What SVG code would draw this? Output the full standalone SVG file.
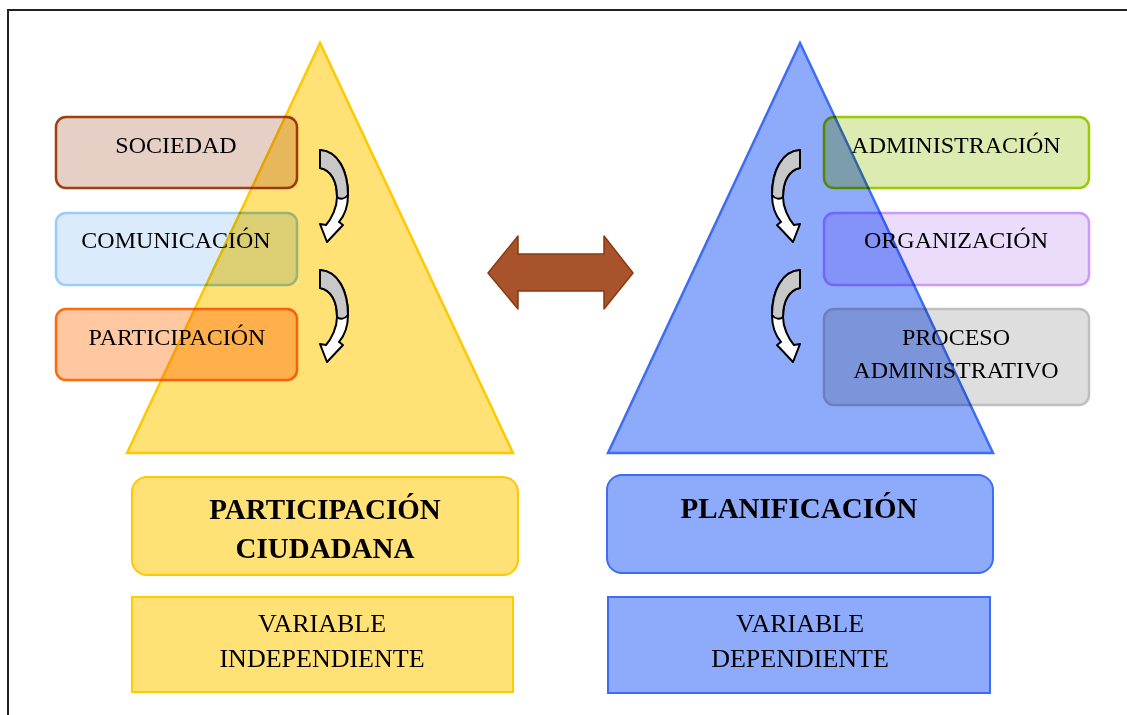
<svg xmlns="http://www.w3.org/2000/svg" width="1127" height="715" viewBox="0 0 1127 715">
<defs>
<style>
.t{font-family:"Liberation Serif","Times New Roman",serif;fill:#000;text-anchor:middle}
.s{font-size:24px}
.m{font-size:26px}
.b{font-size:29px;font-weight:bold}
.bx{mix-blend-mode:multiply;stroke-width:2.5}
.ca{stroke:#000;stroke-width:2;stroke-linejoin:round}
</style>
<g id="curve">
<path class="ca" fill="#fff" d="M2,1 C20,2 30,22 30,46 C30,58 26,67 21,73 L25,76 L9,93 L2,75 L8,76 C14,69 19,58 19,48 C19,32 13,21 2,19 Z"/>
<path class="ca" fill="#c8c8c8" d="M2,1 C20,2 30,22 30,46 C27,50 22,51 19,48 C19,32 13,21 2,19 Z"/>
</g>
</defs>
<rect x="0" y="0" width="1127" height="715" fill="#fff"/>
<rect x="8" y="10" width="1200" height="800" fill="none" stroke="#222" stroke-width="2"/>

<g id="tri-left"><polygon points="320,43 127,453 513,453" fill="#ffe175" stroke="#ffc800" stroke-width="2.5"/></g>
<g id="tri-right"><polygon points="800,43 608,453 993,453" fill="#8eaafb" stroke="#3d6cf5" stroke-width="2.5"/></g>

<g id="sociedad">
<rect class="bx" x="56" y="117" width="241" height="71" rx="10" fill="#e6d0c6" stroke="#a0400f"/>
<text class="t s" x="176" y="153">SOCIEDAD</text>
</g>
<g id="comunicacion">
<rect class="bx" x="56" y="213" width="241" height="72" rx="10" fill="#dcebfb" stroke="#99ccff"/>
<text class="t s" x="176" y="248">COMUNICACIÓN</text>
</g>
<g id="participacion">
<rect class="bx" x="56" y="309" width="241" height="71" rx="10" fill="#ffc8a0" stroke="#ff6a0a"/>
<text class="t s" x="177" y="345">PARTICIPACIÓN</text>
</g>

<g id="administracion">
<rect class="bx" x="824" y="117" width="265" height="71" rx="10" fill="#dcebaf" stroke="#99cc00"/>
<text class="t s" x="956" y="153">ADMINISTRACIÓN</text>
</g>
<g id="organizacion">
<rect class="bx" x="824" y="213" width="265" height="72" rx="10" fill="#ebdcfc" stroke="#cc99ff"/>
<text class="t s" x="956" y="248">ORGANIZACIÓN</text>
</g>
<g id="proceso">
<rect class="bx" x="824" y="309" width="265" height="96" rx="10" fill="#dedede" stroke="#bfbfbf"/>
<text class="t s" x="956" y="345">PROCESO</text>
<text class="t s" x="956" y="378">ADMINISTRATIVO</text>
</g>

<g id="participacion-ciudadana">
<rect x="132" y="477" width="386" height="98" rx="15" fill="#ffe175" stroke="#ffc800" stroke-width="2"/>
<text class="t b" x="325" y="519">PARTICIPACIÓN</text>
<text class="t b" x="325" y="558">CIUDADANA</text>
</g>
<g id="planificacion">
<rect x="607" y="475" width="386" height="98" rx="15" fill="#8eaafb" stroke="#3d6cf5" stroke-width="2"/>
<text class="t b" x="799" y="518">PLANIFICACIÓN</text>
</g>
<g id="var-independiente">
<rect x="132" y="597" width="381" height="95" fill="#ffe175" stroke="#ffcc00" stroke-width="2"/>
<text class="t m" x="322" y="632">VARIABLE</text>
<text class="t m" x="322" y="667">INDEPENDIENTE</text>
</g>
<g id="var-dependiente">
<rect x="608" y="597" width="382" height="96" fill="#8eaafb" stroke="#3d6cf5" stroke-width="2"/>
<text class="t m" x="800" y="632">VARIABLE</text>
<text class="t m" x="800" y="667">DEPENDIENTE</text>
</g>

<g id="connectors">
<polygon points="488,273 518,236 518,254 604,254 604,236 633,273 604,309 604,291 518,291 518,309" fill="#a9532c" stroke="#8b3a10" stroke-width="1.5" stroke-linejoin="round"/>
<use href="#curve" transform="translate(318,149)"/>
<use href="#curve" transform="translate(318,269)"/>
<use href="#curve" transform="translate(802,149) scale(-1,1)"/>
<use href="#curve" transform="translate(802,269) scale(-1,1)"/>
</g>
</svg>
